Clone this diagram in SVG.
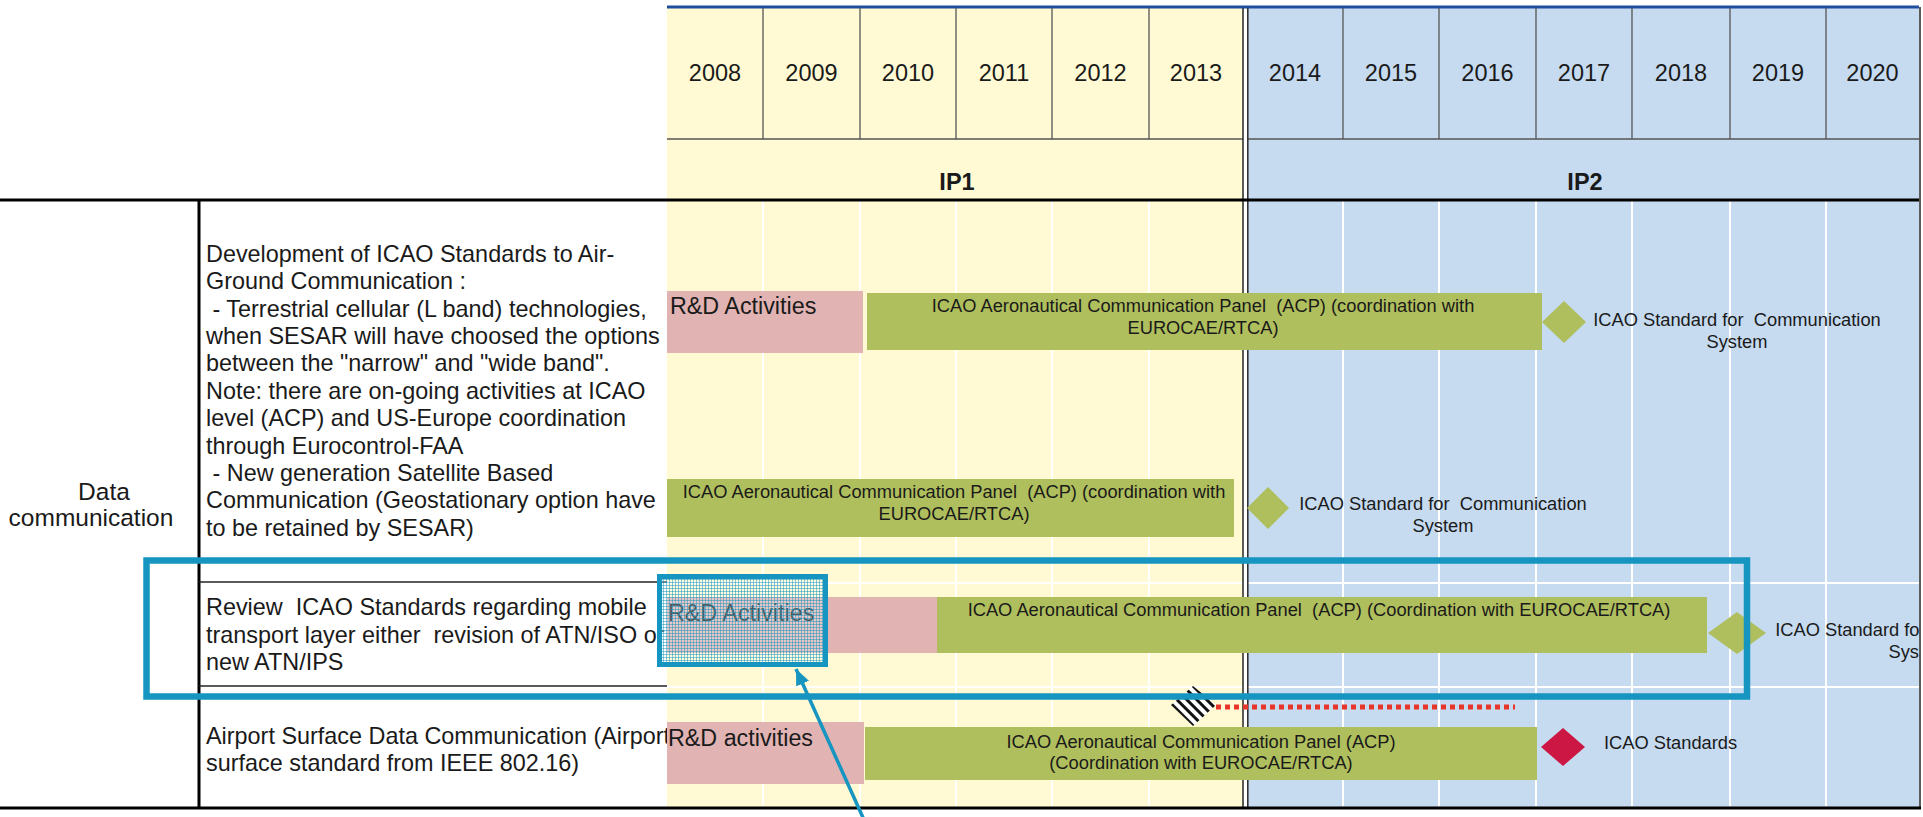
<svg xmlns="http://www.w3.org/2000/svg" width="1923" height="817" viewBox="0 0 1923 817">
<style>
text{font-family:"Liberation Sans",Arial,sans-serif;fill:#1a1a1a}
.yr{font-size:23.5px;text-anchor:middle}
.ip{font-size:23.5px;font-weight:bold;text-anchor:middle}
.lt{font-size:23.4px}
.cat{font-size:24.5px;text-anchor:middle}
.bt{font-size:18.3px;text-anchor:middle}
.bs{font-size:18.3px}
.rd{font-size:23.3px}
.pink{fill:#E1B4B3}
.green{fill:#B0BF5D}
.hg{stroke:#555;stroke-width:1.3}
.wg{stroke:#fff;stroke-width:2}
.blk{stroke:#000;stroke-width:3}
.thin{stroke:#222;stroke-width:1.6}
.teal{fill:none;stroke:#1595BF}
</style>
<defs>
<pattern id="mesh" width="3" height="3" patternUnits="userSpaceOnUse">
<rect width="3" height="3" fill="#ffffff" fill-opacity="0.25"/>
<rect width="3" height="1" fill="#1595BF" fill-opacity="0.5"/>
<rect width="1" height="3" fill="#1595BF" fill-opacity="0.5"/>
</pattern>
<pattern id="stripes" width="7" height="7" patternUnits="userSpaceOnUse" patternTransform="rotate(-45)">
<rect width="7" height="7" fill="#fff"/>
<rect width="3" height="7" fill="#111"/>
</pattern>
<marker id="ah" viewBox="0 0 16 14" refX="16" refY="7" markerWidth="16" markerHeight="14" markerUnits="userSpaceOnUse" orient="auto">
<path d="M0,0 L16,7 L0,14 z" fill="#1595BF"/>
</marker>
<clipPath id="chartclip"><rect x="0" y="0" width="1919" height="817"/></clipPath>
</defs>

<g id="grid">
<rect x="667" y="7" width="576" height="801" fill="#FFFAD4"/>
<rect x="1247" y="7" width="672" height="801" fill="#C6DBF0"/>
<line x1="667" y1="7" x2="1919" y2="7" stroke="#1E4F9E" stroke-width="3"/>
<g class="hg">
<line x1="763" y1="8" x2="763" y2="139"/><line x1="860" y1="8" x2="860" y2="139"/>
<line x1="956" y1="8" x2="956" y2="139"/><line x1="1052" y1="8" x2="1052" y2="139"/>
<line x1="1149" y1="8" x2="1149" y2="139"/>
<line x1="1343" y1="8" x2="1343" y2="139"/><line x1="1439" y1="8" x2="1439" y2="139"/>
<line x1="1536" y1="8" x2="1536" y2="139"/><line x1="1632" y1="8" x2="1632" y2="139"/>
<line x1="1730" y1="8" x2="1730" y2="139"/><line x1="1826" y1="8" x2="1826" y2="139"/>
<line x1="667" y1="139" x2="1243" y2="139"/><line x1="1247" y1="139" x2="1919" y2="139"/>
</g>
<g class="wg">
<line x1="763" y1="201" x2="763" y2="806"/><line x1="860" y1="201" x2="860" y2="806"/>
<line x1="956" y1="201" x2="956" y2="806"/><line x1="1052" y1="201" x2="1052" y2="806"/>
<line x1="1149" y1="201" x2="1149" y2="806"/>
<line x1="1343" y1="201" x2="1343" y2="806"/><line x1="1439" y1="201" x2="1439" y2="806"/>
<line x1="1536" y1="201" x2="1536" y2="806"/><line x1="1632" y1="201" x2="1632" y2="806"/>
<line x1="1730" y1="201" x2="1730" y2="806"/><line x1="1826" y1="201" x2="1826" y2="806"/>
<line x1="667" y1="583" x2="1242" y2="583"/><line x1="1248" y1="583" x2="1919" y2="583"/>
<line x1="667" y1="687" x2="1242" y2="687"/><line x1="1248" y1="687" x2="1919" y2="687"/>
</g>
<line x1="1243" y1="8" x2="1243" y2="808" stroke="#333" stroke-width="1.6"/>
<line x1="1247.8" y1="8" x2="1247.8" y2="808" stroke="#333" stroke-width="1.6"/>
<line x1="1920" y1="7" x2="1920" y2="809" stroke="#333" stroke-width="1.6"/>
<line class="blk" x1="0" y1="200" x2="1919" y2="200"/>
<line class="blk" x1="199" y1="200" x2="199" y2="808"/>
<line class="blk" x1="0" y1="808" x2="1921" y2="808"/>
<line class="thin" x1="199" y1="582" x2="667" y2="582"/>
<line class="thin" x1="199" y1="686" x2="667" y2="686"/>
</g>

<g id="header">
<text class="yr" x="715" y="81">2008</text>
<text class="yr" x="811.5" y="81">2009</text>
<text class="yr" x="908" y="81">2010</text>
<text class="yr" x="1004" y="81">2011</text>
<text class="yr" x="1100.5" y="81">2012</text>
<text class="yr" x="1196" y="81">2013</text>
<text class="yr" x="1295" y="81">2014</text>
<text class="yr" x="1391" y="81">2015</text>
<text class="yr" x="1487.5" y="81">2016</text>
<text class="yr" x="1584" y="81">2017</text>
<text class="yr" x="1681" y="81">2018</text>
<text class="yr" x="1778" y="81">2019</text>
<text class="yr" x="1872.5" y="81">2020</text>
<text class="ip" x="957" y="189.5">IP1</text>
<text class="ip" x="1585" y="189.5">IP2</text>
</g>

<g id="category">
<text class="cat" x="104" y="500">Data</text>
<text class="cat" x="91" y="526">communication</text>
</g>

<g id="desc1">
<text class="lt" x="206" y="262">Development of ICAO Standards to Air-</text>
<text class="lt" x="206" y="289.4">Ground Communication :</text>
<text class="lt" x="206" y="316.7" xml:space="preserve"> - Terrestrial cellular (L band) technologies,</text>
<text class="lt" x="206" y="344.1">when SESAR will have choosed the options</text>
<text class="lt" x="206" y="371.4">between the "narrow" and "wide band".</text>
<text class="lt" x="206" y="398.8">Note: there are on-going activities at ICAO</text>
<text class="lt" x="206" y="426.1">level (ACP) and US-Europe coordination</text>
<text class="lt" x="206" y="453.5">through Eurocontrol-FAA</text>
<text class="lt" x="206" y="480.8" xml:space="preserve"> - New generation Satellite Based</text>
<text class="lt" x="206" y="508.2">Communication (Geostationary option have</text>
<text class="lt" x="206" y="535.5">to be retained by SESAR)</text>
</g>

<g id="desc3">
<text class="lt" x="206" y="615" xml:space="preserve">Review  ICAO Standards regarding mobile</text>
<text class="lt" x="206" y="643" xml:space="preserve">transport layer either  revision of ATN/ISO or</text>
<text class="lt" x="206" y="670">new ATN/IPS</text>
</g>

<g id="desc4">
<text class="lt" x="206" y="744">Airport Surface Data Communication (Airport</text>
<text class="lt" x="206" y="771">surface standard from IEEE 802.16)</text>
</g>

<g id="row1-rd">
<rect class="pink" x="667" y="291" width="196" height="62"/>
<text class="rd" x="670" y="313.5">R&amp;D Activities</text>
</g>
<g id="row1-acp">
<rect class="green" x="867" y="293" width="675" height="57"/>
<text class="bt" x="1203" y="311.5" xml:space="preserve">ICAO Aeronautical Communication Panel  (ACP) (coordination with</text>
<text class="bt" x="1203" y="333.5">EUROCAE/RTCA)</text>
</g>
<g id="row1-std">
<polygon class="green" points="1564,301 1586,322 1564,343 1542,322"/>
<text class="bt" x="1737" y="325.5" xml:space="preserve">ICAO Standard for  Communication</text>
<text class="bt" x="1737" y="347.5">System</text>
</g>

<g id="row2-acp">
<rect class="green" x="667" y="479" width="567" height="58"/>
<text class="bt" x="954" y="497.5" xml:space="preserve">ICAO Aeronautical Communication Panel  (ACP) (coordination with</text>
<text class="bt" x="954" y="519.5">EUROCAE/RTCA)</text>
</g>
<g id="row2-std">
<polygon class="green" points="1268,487 1289,508 1268,529 1247,508"/>
<text class="bt" x="1443" y="509.5" xml:space="preserve">ICAO Standard for  Communication</text>
<text class="bt" x="1443" y="531.5">System</text>
</g>

<g id="row3-rd">
<rect class="pink" x="667" y="597" width="270" height="56"/>
<text class="rd" x="668" y="620.5">R&amp;D Activities</text>
</g>
<g id="row3-acp">
<rect class="green" x="937" y="597" width="770" height="56"/>
<text class="bt" x="1319" y="615.5" xml:space="preserve">ICAO Aeronautical Communication Panel  (ACP) (Coordination with EUROCAE/RTCA)</text>
</g>
<g id="row3-std">
<polygon class="green" points="1737,612 1766,633 1737,654 1708,633"/>
<g clip-path="url(#chartclip)">
<text class="bt" x="1919" y="635.5" xml:space="preserve">ICAO Standard for  Communication</text>
<text class="bt" x="1919" y="657.5">System</text>
</g>
</g>

<g id="row4-rd">
<rect class="pink" x="667" y="722" width="197" height="62"/>
<text class="rd" x="668" y="745.5">R&amp;D activities</text>
</g>
<g id="row4-acp">
<rect class="green" x="865" y="727" width="672" height="53"/>
<text class="bt" x="1201" y="747.5">ICAO Aeronautical Communication Panel (ACP)</text>
<text class="bt" x="1201" y="768.5">(Coordination with EUROCAE/RTCA)</text>
</g>
<g id="row4-std">
<polygon points="1563,728 1585,747 1563,766 1541,747" fill="#CC1744"/>
<text class="bs" x="1604" y="748.5">ICAO Standards</text>
</g>

<g id="milestone-hatched">
<polygon points="1193,686 1216,705 1193,726 1171,705" fill="url(#stripes)"/>
</g>

<g id="highlight">
<rect class="teal" x="146.5" y="560.5" width="1600.5" height="136" stroke-width="6.5"/>
</g>

<g id="focus-box">
<rect x="659.5" y="576.5" width="166" height="88" fill="url(#mesh)" stroke="#1595BF" stroke-width="5"/>
</g>

<g id="connectors">
<line x1="1216" y1="707" x2="1515" y2="707" stroke="#E8352A" stroke-width="5" stroke-dasharray="5 4"/>
<line x1="865" y1="822" x2="796" y2="669" stroke="#1595BF" stroke-width="3.5" marker-end="url(#ah)"/>
</g>
</svg>
